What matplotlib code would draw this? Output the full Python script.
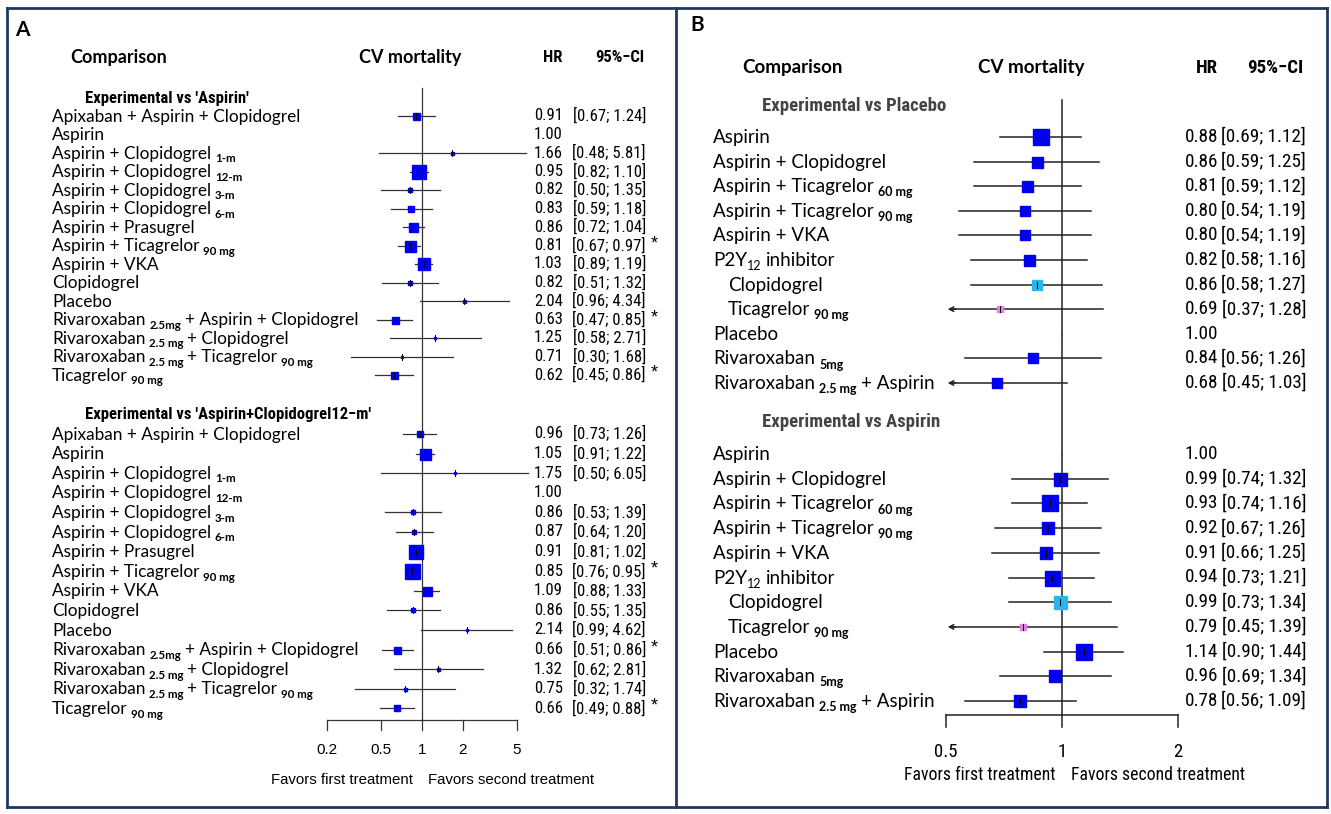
import re
import numpy as np
import matplotlib
matplotlib.use("Agg")
import matplotlib.pyplot as plt
from matplotlib.lines import Line2D

# ---- panel A data: CV mortality, network meta-analysis ----
a_groups = ["Experimental vs 'Aspirin'", "Experimental vs 'Aspirin+Clopidogrel12\u2212m'"]
a_treat = ["Apixaban + Aspirin + Clopidogrel", "Aspirin", "Aspirin + Clopidogrel _{1-m}",
           "Aspirin + Clopidogrel _{12-m}", "Aspirin + Clopidogrel _{3-m}", "Aspirin + Clopidogrel _{6-m}",
           "Aspirin + Prasugrel", "Aspirin + Ticagrelor _{90 mg}", "Aspirin + VKA", "Clopidogrel",
           "Placebo", "Rivaroxaban _{2.5mg} + Aspirin + Clopidogrel", "Rivaroxaban _{2.5 mg} + Clopidogrel",
           "Rivaroxaban _{2.5 mg} + Ticagrelor _{90 mg}", "Ticagrelor _{90 mg}"]
a1_hr = [0.91, 1.00, 1.66, 0.95, 0.82, 0.83, 0.86, 0.81, 1.03, 0.82, 2.04, 0.63, 1.25, 0.71, 0.62]
a1_lo = [0.67, np.nan, 0.48, 0.82, 0.50, 0.59, 0.72, 0.67, 0.89, 0.51, 0.96, 0.47, 0.58, 0.30, 0.45]
a1_hi = [1.24, np.nan, 5.81, 1.10, 1.35, 1.18, 1.04, 0.97, 1.19, 1.32, 4.34, 0.85, 2.71, 1.68, 0.86]
a1_w = [7, 0, 3, 14, 5, 6, 9, 11, 12, 4, 3, 7, 2, 2, 7]
a2_hr = [0.96, 1.05, 1.75, 1.00, 0.86, 0.87, 0.91, 0.85, 1.09, 0.86, 2.14, 0.66, 1.32, 0.75, 0.66]
a2_lo = [0.73, 0.91, 0.50, np.nan, 0.53, 0.64, 0.81, 0.76, 0.88, 0.55, 0.99, 0.51, 0.62, 0.32, 0.49]
a2_hi = [1.26, 1.22, 6.05, np.nan, 1.39, 1.20, 1.02, 0.95, 1.33, 1.35, 4.62, 0.86, 2.81, 1.74, 0.88]
a2_w = [6, 11, 2, 0, 4, 5, 14, 15, 9, 4, 2, 7, 3, 3, 6]
a_ticks = [0.2, 0.5, 1, 2, 5]

# ---- panel B data ----
b_groups = ["Experimental vs Placebo", "Experimental vs Aspirin"]
b_treat = ["Aspirin", "Aspirin + Clopidogrel", "Aspirin + Ticagrelor _{60 mg}", "Aspirin + Ticagrelor _{90 mg}",
           "Aspirin + VKA", "P2Y~{12} inhibitor", "Clopidogrel", "Ticagrelor _{90 mg}", "Placebo",
           "Rivaroxaban _{5mg}", "Rivaroxaban _{2.5 mg} + Aspirin"]
b_level = [0, 0, 0, 0, 0, 0, 1, 1, 0, 0, 0]  # subgroups of P2Y12 inhibitor
b1_hr = [0.88, 0.86, 0.81, 0.80, 0.80, 0.82, 0.86, 0.69, 1.00, 0.84, 0.68]
b1_lo = [0.69, 0.59, 0.59, 0.54, 0.54, 0.58, 0.58, 0.37, np.nan, 0.56, 0.45]
b1_hi = [1.12, 1.25, 1.12, 1.19, 1.19, 1.16, 1.27, 1.28, np.nan, 1.26, 1.03]
b1_w = [16, 11, 11, 10, 10, 11, 10, 6, 0, 10, 10]
b2_hr = [1.00, 0.99, 0.93, 0.92, 0.91, 0.94, 0.99, 0.79, 1.14, 0.96, 0.78]
b2_lo = [np.nan, 0.74, 0.74, 0.67, 0.66, 0.73, 0.73, 0.45, 0.90, 0.69, 0.56]
b2_hi = [np.nan, 1.32, 1.16, 1.26, 1.25, 1.21, 1.34, 1.39, 1.44, 1.34, 1.09]
b2_w = [0, 13, 16, 12, 12, 15, 13, 6, 16, 12, 12]
b_ticks = [0.5, 1, 2]

W, H = 1331, 814
fig = plt.figure(figsize=(W / 100, H / 100), dpi=100)
fig.patch.set_facecolor("white")
renderer = fig.canvas.get_renderer()

LABEL = ["Lato", "DejaVu Sans"]
NARROW = ["Liberation Sans Narrow", "Roboto Condensed", "Roboto", "DejaVu Sans"]
ARIAL = ["Liberation Sans", "DejaVu Sans"]


def fx(x):
    return x / W


def fy(y):
    return 1 - y / H


def txt(x, y, s, **kw):
    return fig.text(fx(x), fy(y), s, **kw)


def rich_label(x, y, label, size, sub_size, color="black"):
    # plain text, _{bold subscript}, ~{plain subscript}
    base = y + size * 0.45
    sp = size * 0.3
    for p in re.split(r"(_\{.*?\}|~\{.*?\})", label):
        if not p:
            continue
        if p[:2] in ("_{", "~{"):
            t = txt(x, base + size * 0.3, p[2:-1], fontsize=sub_size, family=LABEL, color=color,
                    fontweight="bold" if p[0] == "_" else "normal", va="baseline")
            x += t.get_window_extent(renderer).width
        else:
            if p.startswith(" "):
                x += sp
            t = txt(x, base, p.strip(), fontsize=size, family=LABEL, color=color, va="baseline")
            x += t.get_window_extent(renderer).width
            if p.endswith(" "):
                x += sp


def forest(ax, ys, hr, lo, hi, w, colors, xmin, lw, line_col):
    for y, h, l, u, s, c in zip(ys, hr, lo, hi, w, colors):
        if np.isnan(l):
            ax.plot([h, h], [y - 2, y + 2], color="#aaaaaa", lw=0.6, clip_on=False)
            continue
        if l < xmin:
            ax.plot([xmin * 1.03, u], [y, y], color=line_col, lw=lw, clip_on=False)
            ax.annotate("", xy=(xmin * 1.01, y), xytext=(xmin * 1.06, y),
                        arrowprops=dict(arrowstyle="->", lw=lw, color=line_col,
                                        shrinkA=0, shrinkB=0, mutation_scale=8),
                        annotation_clip=False)
        else:
            ax.plot([l, u], [y, y], color=line_col, lw=lw, clip_on=False)
        ax.plot([h], [y], marker="s", ms=s * 0.72, color=c, mec=c, clip_on=False, zorder=3)
        ax.plot([h, h], [y - 3, y + 3], color="black", lw=0.7, clip_on=False, zorder=4)


# ================= Panel A =================
axA = fig.add_axes([fx(327), 0, fx(517) - fx(327), 1])
axA.set_xscale("log")
axA.set_xlim(0.2, 5)
axA.set_ylim(H, 0)
axA.axis("off")

txt(22, 30, "A", fontsize=15, fontweight="bold", family=LABEL, ha="center", va="center")
txt(70, 58, "Comparison", fontsize=13, fontweight="bold", family=LABEL, va="center")
txt(410, 58, "CV mortality", fontsize=13, fontweight="bold", family=LABEL, va="center", ha="center")
txt(553, 58, "HR", fontsize=12, fontweight="bold", family=NARROW, va="center", ha="center")
txt(620, 58, "95%\u2212CI", fontsize=12, fontweight="bold", family=NARROW, va="center", ha="center")

a_sets = [(98, 116, 18.5, a1_hr, a1_lo, a1_hi, a1_w),
          (415, 434, 19.6, a2_hr, a2_lo, a2_hi, a2_w)]
for g, (hy, y0, step, hr, lo, hi, w) in zip(a_groups, a_sets):
    txt(85, hy, g, fontsize=12, fontweight="bold", family=NARROW, va="center")
    ys = [y0 + i * step for i in range(len(a_treat))]
    forest(axA, ys, hr, lo, hi, w, ["#0000EE"] * len(hr), 0.01, 0.9, "#333333")
    for y, lab, h, l, u in zip(ys, a_treat, hr, lo, hi):
        rich_label(52, y, lab, 12.4, 8.3)
        txt(534, y, f"{h:.2f}", fontsize=12, family=NARROW, va="center")
        if not np.isnan(l):
            txt(646, y, f"[{l:.2f}; {u:.2f}]", fontsize=12, family=NARROW, va="center", ha="right")
        if not np.isnan(u) and u < 1:
            txt(651, y - 2, "*", fontsize=13, family=ARIAL, va="center")

axA.plot([1, 1], [88, 720], color="#333333", lw=0.9, clip_on=False)
axA.plot([a_ticks[0], a_ticks[-1]], [720, 720], color="#333333", lw=0.9, clip_on=False)
for t in a_ticks:
    axA.plot([t, t], [720, 730], color="#333333", lw=0.9, clip_on=False)
    axA.text(t, 750, f"{t:g}", fontsize=11, family=ARIAL, ha="center", va="center")
txt(413, 780, "Favors first treatment", fontsize=10.8, family=ARIAL, ha="right", va="center")
txt(428, 780, "Favors second treatment", fontsize=10.8, family=ARIAL, ha="left", va="center")

# ================= Panel B =================
axB = fig.add_axes([fx(946), 0, fx(1178) - fx(946), 1])
axB.set_xscale("log")
axB.set_xlim(0.5, 2)
axB.set_ylim(H, 0)
axB.axis("off")

txt(697, 25, "B", fontsize=15, fontweight="bold", family=LABEL, ha="center", va="center")
txt(742, 68, "Comparison", fontsize=13.5, fontweight="bold", family=LABEL, va="center")
txt(1031, 68, "CV mortality", fontsize=13.5, fontweight="bold", family=LABEL, va="center", ha="center")
txt(1207, 68, "HR", fontsize=13.5, fontweight="bold", family=NARROW, va="center", ha="center")
txt(1275, 68, "95%\u2212CI", fontsize=13.5, fontweight="bold", family=NARROW, va="center", ha="center")

sub_colors = {"Clopidogrel": "#29B6E8", "Ticagrelor _{90 mg}": "#E47FE4"}
b_colors = [sub_colors[t] if lv else "#0000EE" for t, lv in zip(b_treat, b_level)]
b_sets = [(106, 137, 24.6, b1_hr, b1_lo, b1_hi, b1_w),
          (422, 454, 24.7, b2_hr, b2_lo, b2_hi, b2_w)]
for g, (hy, y0, step, hr, lo, hi, w) in zip(b_groups, b_sets):
    txt(762, hy, g, fontsize=13.5, fontweight="bold", family=NARROW, va="center", color="#444444")
    ys = [y0 + i * step for i in range(len(b_treat))]
    forest(axB, ys, hr, lo, hi, w, b_colors, 0.5, 1.1, "#222222")
    for y, lab, lv, h, l, u in zip(ys, b_treat, b_level, hr, lo, hi):
        rich_label(713 + 15 * lv, y, lab, 13.5, 9)
        txt(1185, y, f"{h:.2f}", fontsize=13.8, family=NARROW, va="center")
        if not np.isnan(l):
            txt(1306, y, f"[{l:.2f}; {u:.2f}]", fontsize=13.8, family=NARROW, va="center", ha="right")

axB.plot([1, 1], [100, 715], color="#222222", lw=1.1, clip_on=False)
axB.plot([b_ticks[0], b_ticks[-1]], [715, 715], color="#222222", lw=1.1, clip_on=False)
for t in b_ticks:
    axB.plot([t, t], [715, 727], color="#222222", lw=1.1, clip_on=False)
    axB.text(t, 752, f"{t:g}", fontsize=13.5, family=NARROW, ha="center", va="center")
txt(1056, 775, "Favors first treatment", fontsize=12.7, family=NARROW, ha="right", va="center")
txt(1071, 775, "Favors second treatment", fontsize=12.7, family=NARROW, ha="left", va="center")

# panel borders
bc = "#1F3864"
for xs, ys in [([7, 1327], [8, 8]), ([7, 1327], [807, 807]), ([7, 7], [8, 807]),
               ([1327, 1327], [8, 807]), ([676, 676], [8, 807])]:
    fig.add_artist(Line2D([fx(v) for v in xs], [fy(v) for v in ys], color=bc, lw=2))

fig.savefig("out.png", dpi=100)
